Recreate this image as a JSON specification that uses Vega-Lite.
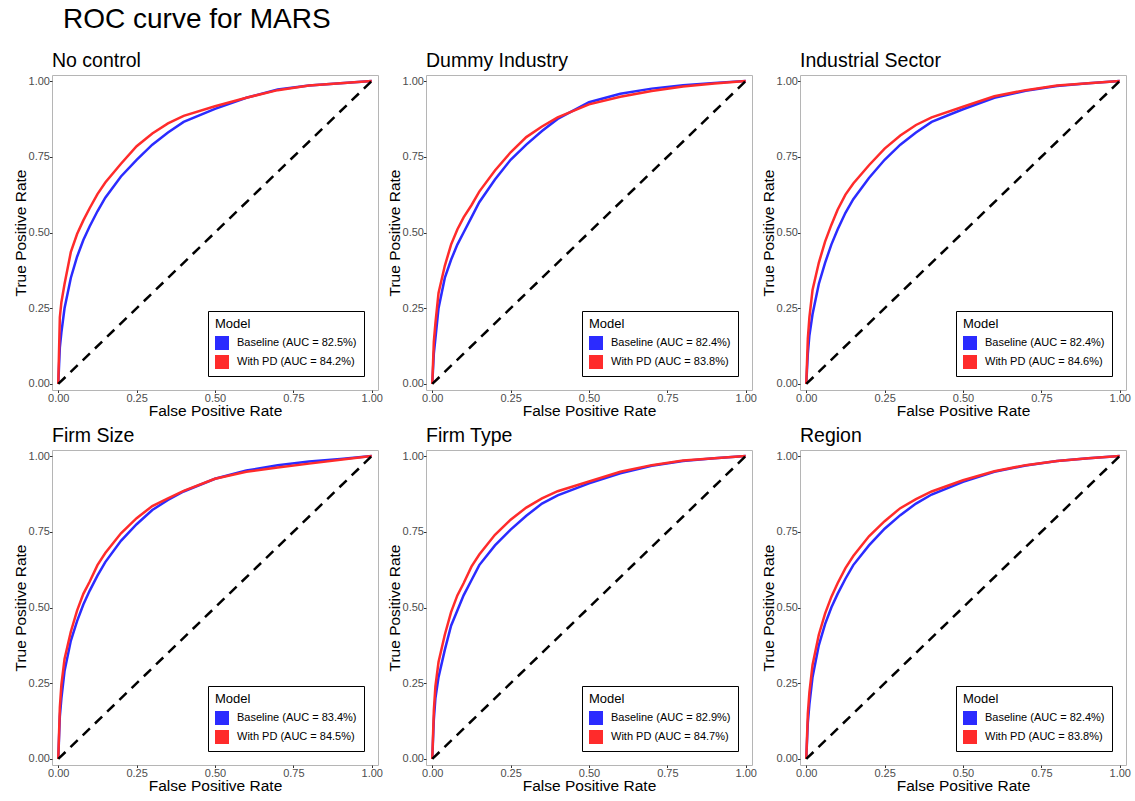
{
  "$schema": "https://vega.github.io/schema/vega-lite/v6.json",
  "background": "white",
  "padding": {"left": 12, "top": 6, "right": 5, "bottom": 5},
  "bounds": "flush",
  "title": {"text": "ROC curve for MARS", "fontSize": 28, "font": "Liberation Sans", "fontWeight": "normal", "color": "black", "anchor": "start", "frame": "group", "dx": 11, "offset": 16},
  "data": {"values": [
    {"panel":"No control","model":"Baseline","fpr":0,"tpr":0},{"panel":"No control","model":"Baseline","fpr":0.005,"tpr":0.12},{"panel":"No control","model":"Baseline","fpr":0.01,"tpr":0.17},{"panel":"No control","model":"Baseline","fpr":0.02,"tpr":0.25},{"panel":"No control","model":"Baseline","fpr":0.04,"tpr":0.35},{"panel":"No control","model":"Baseline","fpr":0.06,"tpr":0.42},{"panel":"No control","model":"Baseline","fpr":0.08,"tpr":0.475},{"panel":"No control","model":"Baseline","fpr":0.1,"tpr":0.52},{"panel":"No control","model":"Baseline","fpr":0.125,"tpr":0.57},{"panel":"No control","model":"Baseline","fpr":0.15,"tpr":0.615},{"panel":"No control","model":"Baseline","fpr":0.2,"tpr":0.685},{"panel":"No control","model":"Baseline","fpr":0.25,"tpr":0.74},{"panel":"No control","model":"Baseline","fpr":0.3,"tpr":0.79},{"panel":"No control","model":"Baseline","fpr":0.35,"tpr":0.83},{"panel":"No control","model":"Baseline","fpr":0.4,"tpr":0.865},{"panel":"No control","model":"Baseline","fpr":0.5,"tpr":0.908},{"panel":"No control","model":"Baseline","fpr":0.6,"tpr":0.945},{"panel":"No control","model":"Baseline","fpr":0.7,"tpr":0.972},{"panel":"No control","model":"Baseline","fpr":0.8,"tpr":0.985},{"panel":"No control","model":"Baseline","fpr":0.9,"tpr":0.993},{"panel":"No control","model":"Baseline","fpr":1,"tpr":1},
    {"panel":"No control","model":"With PD","fpr":0,"tpr":0},{"panel":"No control","model":"With PD","fpr":0.005,"tpr":0.22},{"panel":"No control","model":"With PD","fpr":0.01,"tpr":0.27},{"panel":"No control","model":"With PD","fpr":0.02,"tpr":0.33},{"panel":"No control","model":"With PD","fpr":0.04,"tpr":0.435},{"panel":"No control","model":"With PD","fpr":0.06,"tpr":0.495},{"panel":"No control","model":"With PD","fpr":0.08,"tpr":0.54},{"panel":"No control","model":"With PD","fpr":0.1,"tpr":0.58},{"panel":"No control","model":"With PD","fpr":0.125,"tpr":0.627},{"panel":"No control","model":"With PD","fpr":0.15,"tpr":0.665},{"panel":"No control","model":"With PD","fpr":0.2,"tpr":0.727},{"panel":"No control","model":"With PD","fpr":0.25,"tpr":0.785},{"panel":"No control","model":"With PD","fpr":0.3,"tpr":0.827},{"panel":"No control","model":"With PD","fpr":0.35,"tpr":0.86},{"panel":"No control","model":"With PD","fpr":0.4,"tpr":0.885},{"panel":"No control","model":"With PD","fpr":0.5,"tpr":0.917},{"panel":"No control","model":"With PD","fpr":0.6,"tpr":0.945},{"panel":"No control","model":"With PD","fpr":0.7,"tpr":0.97},{"panel":"No control","model":"With PD","fpr":0.8,"tpr":0.985},{"panel":"No control","model":"With PD","fpr":0.9,"tpr":0.993},{"panel":"No control","model":"With PD","fpr":1,"tpr":1},
    {"panel":"Dummy Industry","model":"Baseline","fpr":0,"tpr":0},{"panel":"Dummy Industry","model":"Baseline","fpr":0.005,"tpr":0.1},{"panel":"Dummy Industry","model":"Baseline","fpr":0.01,"tpr":0.15},{"panel":"Dummy Industry","model":"Baseline","fpr":0.02,"tpr":0.25},{"panel":"Dummy Industry","model":"Baseline","fpr":0.04,"tpr":0.35},{"panel":"Dummy Industry","model":"Baseline","fpr":0.06,"tpr":0.41},{"panel":"Dummy Industry","model":"Baseline","fpr":0.08,"tpr":0.46},{"panel":"Dummy Industry","model":"Baseline","fpr":0.1,"tpr":0.5},{"panel":"Dummy Industry","model":"Baseline","fpr":0.125,"tpr":0.55},{"panel":"Dummy Industry","model":"Baseline","fpr":0.15,"tpr":0.6},{"panel":"Dummy Industry","model":"Baseline","fpr":0.2,"tpr":0.675},{"panel":"Dummy Industry","model":"Baseline","fpr":0.25,"tpr":0.74},{"panel":"Dummy Industry","model":"Baseline","fpr":0.3,"tpr":0.79},{"panel":"Dummy Industry","model":"Baseline","fpr":0.35,"tpr":0.835},{"panel":"Dummy Industry","model":"Baseline","fpr":0.4,"tpr":0.875},{"panel":"Dummy Industry","model":"Baseline","fpr":0.5,"tpr":0.93},{"panel":"Dummy Industry","model":"Baseline","fpr":0.6,"tpr":0.958},{"panel":"Dummy Industry","model":"Baseline","fpr":0.7,"tpr":0.975},{"panel":"Dummy Industry","model":"Baseline","fpr":0.8,"tpr":0.986},{"panel":"Dummy Industry","model":"Baseline","fpr":0.9,"tpr":0.994},{"panel":"Dummy Industry","model":"Baseline","fpr":1,"tpr":1},
    {"panel":"Dummy Industry","model":"With PD","fpr":0,"tpr":0},{"panel":"Dummy Industry","model":"With PD","fpr":0.005,"tpr":0.14},{"panel":"Dummy Industry","model":"With PD","fpr":0.01,"tpr":0.2},{"panel":"Dummy Industry","model":"With PD","fpr":0.02,"tpr":0.3},{"panel":"Dummy Industry","model":"With PD","fpr":0.04,"tpr":0.39},{"panel":"Dummy Industry","model":"With PD","fpr":0.06,"tpr":0.46},{"panel":"Dummy Industry","model":"With PD","fpr":0.08,"tpr":0.51},{"panel":"Dummy Industry","model":"With PD","fpr":0.1,"tpr":0.55},{"panel":"Dummy Industry","model":"With PD","fpr":0.125,"tpr":0.59},{"panel":"Dummy Industry","model":"With PD","fpr":0.15,"tpr":0.635},{"panel":"Dummy Industry","model":"With PD","fpr":0.2,"tpr":0.705},{"panel":"Dummy Industry","model":"With PD","fpr":0.25,"tpr":0.765},{"panel":"Dummy Industry","model":"With PD","fpr":0.3,"tpr":0.815},{"panel":"Dummy Industry","model":"With PD","fpr":0.35,"tpr":0.85},{"panel":"Dummy Industry","model":"With PD","fpr":0.4,"tpr":0.88},{"panel":"Dummy Industry","model":"With PD","fpr":0.5,"tpr":0.923},{"panel":"Dummy Industry","model":"With PD","fpr":0.6,"tpr":0.948},{"panel":"Dummy Industry","model":"With PD","fpr":0.7,"tpr":0.967},{"panel":"Dummy Industry","model":"With PD","fpr":0.8,"tpr":0.982},{"panel":"Dummy Industry","model":"With PD","fpr":0.9,"tpr":0.992},{"panel":"Dummy Industry","model":"With PD","fpr":1,"tpr":1},
    {"panel":"Industrial Sector","model":"Baseline","fpr":0,"tpr":0},{"panel":"Industrial Sector","model":"Baseline","fpr":0.005,"tpr":0.1},{"panel":"Industrial Sector","model":"Baseline","fpr":0.01,"tpr":0.16},{"panel":"Industrial Sector","model":"Baseline","fpr":0.02,"tpr":0.23},{"panel":"Industrial Sector","model":"Baseline","fpr":0.04,"tpr":0.33},{"panel":"Industrial Sector","model":"Baseline","fpr":0.06,"tpr":0.4},{"panel":"Industrial Sector","model":"Baseline","fpr":0.08,"tpr":0.46},{"panel":"Industrial Sector","model":"Baseline","fpr":0.1,"tpr":0.51},{"panel":"Industrial Sector","model":"Baseline","fpr":0.125,"tpr":0.565},{"panel":"Industrial Sector","model":"Baseline","fpr":0.15,"tpr":0.61},{"panel":"Industrial Sector","model":"Baseline","fpr":0.2,"tpr":0.68},{"panel":"Industrial Sector","model":"Baseline","fpr":0.25,"tpr":0.74},{"panel":"Industrial Sector","model":"Baseline","fpr":0.3,"tpr":0.79},{"panel":"Industrial Sector","model":"Baseline","fpr":0.35,"tpr":0.83},{"panel":"Industrial Sector","model":"Baseline","fpr":0.4,"tpr":0.865},{"panel":"Industrial Sector","model":"Baseline","fpr":0.5,"tpr":0.907},{"panel":"Industrial Sector","model":"Baseline","fpr":0.6,"tpr":0.945},{"panel":"Industrial Sector","model":"Baseline","fpr":0.7,"tpr":0.968},{"panel":"Industrial Sector","model":"Baseline","fpr":0.8,"tpr":0.984},{"panel":"Industrial Sector","model":"Baseline","fpr":0.9,"tpr":0.993},{"panel":"Industrial Sector","model":"Baseline","fpr":1,"tpr":1},
    {"panel":"Industrial Sector","model":"With PD","fpr":0,"tpr":0},{"panel":"Industrial Sector","model":"With PD","fpr":0.005,"tpr":0.15},{"panel":"Industrial Sector","model":"With PD","fpr":0.01,"tpr":0.22},{"panel":"Industrial Sector","model":"With PD","fpr":0.02,"tpr":0.31},{"panel":"Industrial Sector","model":"With PD","fpr":0.04,"tpr":0.4},{"panel":"Industrial Sector","model":"With PD","fpr":0.06,"tpr":0.47},{"panel":"Industrial Sector","model":"With PD","fpr":0.08,"tpr":0.525},{"panel":"Industrial Sector","model":"With PD","fpr":0.1,"tpr":0.575},{"panel":"Industrial Sector","model":"With PD","fpr":0.125,"tpr":0.625},{"panel":"Industrial Sector","model":"With PD","fpr":0.15,"tpr":0.662},{"panel":"Industrial Sector","model":"With PD","fpr":0.2,"tpr":0.722},{"panel":"Industrial Sector","model":"With PD","fpr":0.25,"tpr":0.777},{"panel":"Industrial Sector","model":"With PD","fpr":0.3,"tpr":0.82},{"panel":"Industrial Sector","model":"With PD","fpr":0.35,"tpr":0.855},{"panel":"Industrial Sector","model":"With PD","fpr":0.4,"tpr":0.88},{"panel":"Industrial Sector","model":"With PD","fpr":0.5,"tpr":0.915},{"panel":"Industrial Sector","model":"With PD","fpr":0.6,"tpr":0.95},{"panel":"Industrial Sector","model":"With PD","fpr":0.7,"tpr":0.97},{"panel":"Industrial Sector","model":"With PD","fpr":0.8,"tpr":0.985},{"panel":"Industrial Sector","model":"With PD","fpr":0.9,"tpr":0.993},{"panel":"Industrial Sector","model":"With PD","fpr":1,"tpr":1},
    {"panel":"Firm Size","model":"Baseline","fpr":0,"tpr":0},{"panel":"Firm Size","model":"Baseline","fpr":0.005,"tpr":0.14},{"panel":"Firm Size","model":"Baseline","fpr":0.01,"tpr":0.2},{"panel":"Firm Size","model":"Baseline","fpr":0.02,"tpr":0.29},{"panel":"Firm Size","model":"Baseline","fpr":0.04,"tpr":0.39},{"panel":"Firm Size","model":"Baseline","fpr":0.06,"tpr":0.455},{"panel":"Firm Size","model":"Baseline","fpr":0.08,"tpr":0.51},{"panel":"Firm Size","model":"Baseline","fpr":0.1,"tpr":0.555},{"panel":"Firm Size","model":"Baseline","fpr":0.125,"tpr":0.605},{"panel":"Firm Size","model":"Baseline","fpr":0.15,"tpr":0.65},{"panel":"Firm Size","model":"Baseline","fpr":0.2,"tpr":0.72},{"panel":"Firm Size","model":"Baseline","fpr":0.25,"tpr":0.775},{"panel":"Firm Size","model":"Baseline","fpr":0.3,"tpr":0.822},{"panel":"Firm Size","model":"Baseline","fpr":0.35,"tpr":0.855},{"panel":"Firm Size","model":"Baseline","fpr":0.4,"tpr":0.883},{"panel":"Firm Size","model":"Baseline","fpr":0.5,"tpr":0.925},{"panel":"Firm Size","model":"Baseline","fpr":0.6,"tpr":0.952},{"panel":"Firm Size","model":"Baseline","fpr":0.7,"tpr":0.97},{"panel":"Firm Size","model":"Baseline","fpr":0.8,"tpr":0.982},{"panel":"Firm Size","model":"Baseline","fpr":0.9,"tpr":0.99},{"panel":"Firm Size","model":"Baseline","fpr":1,"tpr":1},
    {"panel":"Firm Size","model":"With PD","fpr":0,"tpr":0},{"panel":"Firm Size","model":"With PD","fpr":0.005,"tpr":0.17},{"panel":"Firm Size","model":"With PD","fpr":0.01,"tpr":0.245},{"panel":"Firm Size","model":"With PD","fpr":0.02,"tpr":0.33},{"panel":"Firm Size","model":"With PD","fpr":0.04,"tpr":0.42},{"panel":"Firm Size","model":"With PD","fpr":0.06,"tpr":0.49},{"panel":"Firm Size","model":"With PD","fpr":0.08,"tpr":0.545},{"panel":"Firm Size","model":"With PD","fpr":0.1,"tpr":0.585},{"panel":"Firm Size","model":"With PD","fpr":0.125,"tpr":0.64},{"panel":"Firm Size","model":"With PD","fpr":0.15,"tpr":0.68},{"panel":"Firm Size","model":"With PD","fpr":0.2,"tpr":0.745},{"panel":"Firm Size","model":"With PD","fpr":0.25,"tpr":0.795},{"panel":"Firm Size","model":"With PD","fpr":0.3,"tpr":0.835},{"panel":"Firm Size","model":"With PD","fpr":0.35,"tpr":0.86},{"panel":"Firm Size","model":"With PD","fpr":0.4,"tpr":0.885},{"panel":"Firm Size","model":"With PD","fpr":0.5,"tpr":0.925},{"panel":"Firm Size","model":"With PD","fpr":0.6,"tpr":0.948},{"panel":"Firm Size","model":"With PD","fpr":0.7,"tpr":0.962},{"panel":"Firm Size","model":"With PD","fpr":0.8,"tpr":0.975},{"panel":"Firm Size","model":"With PD","fpr":0.9,"tpr":0.988},{"panel":"Firm Size","model":"With PD","fpr":1,"tpr":1},
    {"panel":"Firm Type","model":"Baseline","fpr":0,"tpr":0},{"panel":"Firm Type","model":"Baseline","fpr":0.005,"tpr":0.13},{"panel":"Firm Type","model":"Baseline","fpr":0.01,"tpr":0.2},{"panel":"Firm Type","model":"Baseline","fpr":0.02,"tpr":0.27},{"panel":"Firm Type","model":"Baseline","fpr":0.04,"tpr":0.36},{"panel":"Firm Type","model":"Baseline","fpr":0.06,"tpr":0.44},{"panel":"Firm Type","model":"Baseline","fpr":0.08,"tpr":0.49},{"panel":"Firm Type","model":"Baseline","fpr":0.1,"tpr":0.54},{"panel":"Firm Type","model":"Baseline","fpr":0.125,"tpr":0.59},{"panel":"Firm Type","model":"Baseline","fpr":0.15,"tpr":0.64},{"panel":"Firm Type","model":"Baseline","fpr":0.2,"tpr":0.705},{"panel":"Firm Type","model":"Baseline","fpr":0.25,"tpr":0.757},{"panel":"Firm Type","model":"Baseline","fpr":0.3,"tpr":0.803},{"panel":"Firm Type","model":"Baseline","fpr":0.35,"tpr":0.843},{"panel":"Firm Type","model":"Baseline","fpr":0.4,"tpr":0.87},{"panel":"Firm Type","model":"Baseline","fpr":0.5,"tpr":0.91},{"panel":"Firm Type","model":"Baseline","fpr":0.6,"tpr":0.943},{"panel":"Firm Type","model":"Baseline","fpr":0.7,"tpr":0.968},{"panel":"Firm Type","model":"Baseline","fpr":0.8,"tpr":0.984},{"panel":"Firm Type","model":"Baseline","fpr":0.9,"tpr":0.993},{"panel":"Firm Type","model":"Baseline","fpr":1,"tpr":1},
    {"panel":"Firm Type","model":"With PD","fpr":0,"tpr":0},{"panel":"Firm Type","model":"With PD","fpr":0.005,"tpr":0.16},{"panel":"Firm Type","model":"With PD","fpr":0.01,"tpr":0.24},{"panel":"Firm Type","model":"With PD","fpr":0.02,"tpr":0.32},{"panel":"Firm Type","model":"With PD","fpr":0.04,"tpr":0.41},{"panel":"Firm Type","model":"With PD","fpr":0.06,"tpr":0.485},{"panel":"Firm Type","model":"With PD","fpr":0.08,"tpr":0.54},{"panel":"Firm Type","model":"With PD","fpr":0.1,"tpr":0.58},{"panel":"Firm Type","model":"With PD","fpr":0.125,"tpr":0.635},{"panel":"Firm Type","model":"With PD","fpr":0.15,"tpr":0.675},{"panel":"Firm Type","model":"With PD","fpr":0.2,"tpr":0.74},{"panel":"Firm Type","model":"With PD","fpr":0.25,"tpr":0.79},{"panel":"Firm Type","model":"With PD","fpr":0.3,"tpr":0.83},{"panel":"Firm Type","model":"With PD","fpr":0.35,"tpr":0.86},{"panel":"Firm Type","model":"With PD","fpr":0.4,"tpr":0.884},{"panel":"Firm Type","model":"With PD","fpr":0.5,"tpr":0.916},{"panel":"Firm Type","model":"With PD","fpr":0.6,"tpr":0.948},{"panel":"Firm Type","model":"With PD","fpr":0.7,"tpr":0.97},{"panel":"Firm Type","model":"With PD","fpr":0.8,"tpr":0.985},{"panel":"Firm Type","model":"With PD","fpr":0.9,"tpr":0.993},{"panel":"Firm Type","model":"With PD","fpr":1,"tpr":1},
    {"panel":"Region","model":"Baseline","fpr":0,"tpr":0},{"panel":"Region","model":"Baseline","fpr":0.005,"tpr":0.12},{"panel":"Region","model":"Baseline","fpr":0.01,"tpr":0.18},{"panel":"Region","model":"Baseline","fpr":0.02,"tpr":0.27},{"panel":"Region","model":"Baseline","fpr":0.04,"tpr":0.375},{"panel":"Region","model":"Baseline","fpr":0.06,"tpr":0.445},{"panel":"Region","model":"Baseline","fpr":0.08,"tpr":0.5},{"panel":"Region","model":"Baseline","fpr":0.1,"tpr":0.545},{"panel":"Region","model":"Baseline","fpr":0.125,"tpr":0.595},{"panel":"Region","model":"Baseline","fpr":0.15,"tpr":0.64},{"panel":"Region","model":"Baseline","fpr":0.2,"tpr":0.705},{"panel":"Region","model":"Baseline","fpr":0.25,"tpr":0.76},{"panel":"Region","model":"Baseline","fpr":0.3,"tpr":0.805},{"panel":"Region","model":"Baseline","fpr":0.35,"tpr":0.843},{"panel":"Region","model":"Baseline","fpr":0.4,"tpr":0.873},{"panel":"Region","model":"Baseline","fpr":0.5,"tpr":0.915},{"panel":"Region","model":"Baseline","fpr":0.6,"tpr":0.948},{"panel":"Region","model":"Baseline","fpr":0.7,"tpr":0.969},{"panel":"Region","model":"Baseline","fpr":0.8,"tpr":0.984},{"panel":"Region","model":"Baseline","fpr":0.9,"tpr":0.993},{"panel":"Region","model":"Baseline","fpr":1,"tpr":1},
    {"panel":"Region","model":"With PD","fpr":0,"tpr":0},{"panel":"Region","model":"With PD","fpr":0.005,"tpr":0.15},{"panel":"Region","model":"With PD","fpr":0.01,"tpr":0.22},{"panel":"Region","model":"With PD","fpr":0.02,"tpr":0.31},{"panel":"Region","model":"With PD","fpr":0.04,"tpr":0.41},{"panel":"Region","model":"With PD","fpr":0.06,"tpr":0.48},{"panel":"Region","model":"With PD","fpr":0.08,"tpr":0.535},{"panel":"Region","model":"With PD","fpr":0.1,"tpr":0.58},{"panel":"Region","model":"With PD","fpr":0.125,"tpr":0.63},{"panel":"Region","model":"With PD","fpr":0.15,"tpr":0.67},{"panel":"Region","model":"With PD","fpr":0.2,"tpr":0.735},{"panel":"Region","model":"With PD","fpr":0.25,"tpr":0.785},{"panel":"Region","model":"With PD","fpr":0.3,"tpr":0.828},{"panel":"Region","model":"With PD","fpr":0.35,"tpr":0.858},{"panel":"Region","model":"With PD","fpr":0.4,"tpr":0.883},{"panel":"Region","model":"With PD","fpr":0.5,"tpr":0.92},{"panel":"Region","model":"With PD","fpr":0.6,"tpr":0.95},{"panel":"Region","model":"With PD","fpr":0.7,"tpr":0.97},{"panel":"Region","model":"With PD","fpr":0.8,"tpr":0.984},{"panel":"Region","model":"With PD","fpr":0.9,"tpr":0.993},{"panel":"Region","model":"With PD","fpr":1,"tpr":1}
  ]},
  "columns": 3,
  "spacing": {"row": 60, "column": 48},
  "resolve": {"scale": {"color": "independent"}, "legend": {"color": "independent"}},
  "concat": [
    {"title": "No control", "width": 326, "height": 315,
     "layer": [
      {"transform": [{"filter": "datum.panel == 'No control'"}],
       "mark": {"type": "line", "strokeWidth": 2.5},
       "encoding": {
        "x": {"field": "fpr", "type": "quantitative", "title": "False Positive Rate", "scale": {"domain": [-0.02, 1.02], "nice": false, "zero": false}, "axis": {"values": [0, 0.25, 0.5, 0.75, 1]}},
        "y": {"field": "tpr", "type": "quantitative", "title": "True Positive Rate", "scale": {"domain": [-0.02, 1.02], "nice": false, "zero": false}, "axis": {"values": [0, 0.25, 0.5, 0.75, 1]}},
        "color": {"field": "model", "type": "nominal", "title": "Model", "scale": {"domain": ["Baseline", "With PD"], "range": ["#2b2bff", "#ff2b2b"]}, "legend": {"labelExpr": "datum.label == 'Baseline' ? 'Baseline (AUC = 82.5%)' : 'With PD (AUC = 84.2%)'", "encode": {"symbols": {"update": {"fill": {"signal": "datum.value == 'Baseline' ? '#2b2bff' : '#ff2b2b'"}}}}}}}},
      {"data": {"values": [{}]}, "mark": {"type": "rule", "color": "black", "strokeWidth": 2.5, "strokeDash": [10, 7]},
       "encoding": {"x": {"datum": 0}, "y": {"datum": 0}, "x2": {"datum": 1}, "y2": {"datum": 1}}}
     ]},
    {"title": "Dummy Industry", "width": 326, "height": 315,
     "layer": [
      {"transform": [{"filter": "datum.panel == 'Dummy Industry'"}],
       "mark": {"type": "line", "strokeWidth": 2.5},
       "encoding": {
        "x": {"field": "fpr", "type": "quantitative", "title": "False Positive Rate", "scale": {"domain": [-0.02, 1.02], "nice": false, "zero": false}, "axis": {"values": [0, 0.25, 0.5, 0.75, 1]}},
        "y": {"field": "tpr", "type": "quantitative", "title": "True Positive Rate", "scale": {"domain": [-0.02, 1.02], "nice": false, "zero": false}, "axis": {"values": [0, 0.25, 0.5, 0.75, 1]}},
        "color": {"field": "model", "type": "nominal", "title": "Model", "scale": {"domain": ["Baseline", "With PD"], "range": ["#2b2bff", "#ff2b2b"]}, "legend": {"labelExpr": "datum.label == 'Baseline' ? 'Baseline (AUC = 82.4%)' : 'With PD (AUC = 83.8%)'", "encode": {"symbols": {"update": {"fill": {"signal": "datum.value == 'Baseline' ? '#2b2bff' : '#ff2b2b'"}}}}}}}},
      {"data": {"values": [{}]}, "mark": {"type": "rule", "color": "black", "strokeWidth": 2.5, "strokeDash": [10, 7]},
       "encoding": {"x": {"datum": 0}, "y": {"datum": 0}, "x2": {"datum": 1}, "y2": {"datum": 1}}}
     ]},
    {"title": "Industrial Sector", "width": 326, "height": 315,
     "layer": [
      {"transform": [{"filter": "datum.panel == 'Industrial Sector'"}],
       "mark": {"type": "line", "strokeWidth": 2.5},
       "encoding": {
        "x": {"field": "fpr", "type": "quantitative", "title": "False Positive Rate", "scale": {"domain": [-0.02, 1.02], "nice": false, "zero": false}, "axis": {"values": [0, 0.25, 0.5, 0.75, 1]}},
        "y": {"field": "tpr", "type": "quantitative", "title": "True Positive Rate", "scale": {"domain": [-0.02, 1.02], "nice": false, "zero": false}, "axis": {"values": [0, 0.25, 0.5, 0.75, 1]}},
        "color": {"field": "model", "type": "nominal", "title": "Model", "scale": {"domain": ["Baseline", "With PD"], "range": ["#2b2bff", "#ff2b2b"]}, "legend": {"labelExpr": "datum.label == 'Baseline' ? 'Baseline (AUC = 82.4%)' : 'With PD (AUC = 84.6%)'", "encode": {"symbols": {"update": {"fill": {"signal": "datum.value == 'Baseline' ? '#2b2bff' : '#ff2b2b'"}}}}}}}},
      {"data": {"values": [{}]}, "mark": {"type": "rule", "color": "black", "strokeWidth": 2.5, "strokeDash": [10, 7]},
       "encoding": {"x": {"datum": 0}, "y": {"datum": 0}, "x2": {"datum": 1}, "y2": {"datum": 1}}}
     ]},
    {"title": "Firm Size", "width": 326, "height": 315,
     "layer": [
      {"transform": [{"filter": "datum.panel == 'Firm Size'"}],
       "mark": {"type": "line", "strokeWidth": 2.5},
       "encoding": {
        "x": {"field": "fpr", "type": "quantitative", "title": "False Positive Rate", "scale": {"domain": [-0.02, 1.02], "nice": false, "zero": false}, "axis": {"values": [0, 0.25, 0.5, 0.75, 1]}},
        "y": {"field": "tpr", "type": "quantitative", "title": "True Positive Rate", "scale": {"domain": [-0.02, 1.02], "nice": false, "zero": false}, "axis": {"values": [0, 0.25, 0.5, 0.75, 1]}},
        "color": {"field": "model", "type": "nominal", "title": "Model", "scale": {"domain": ["Baseline", "With PD"], "range": ["#2b2bff", "#ff2b2b"]}, "legend": {"labelExpr": "datum.label == 'Baseline' ? 'Baseline (AUC = 83.4%)' : 'With PD (AUC = 84.5%)'", "encode": {"symbols": {"update": {"fill": {"signal": "datum.value == 'Baseline' ? '#2b2bff' : '#ff2b2b'"}}}}}}}},
      {"data": {"values": [{}]}, "mark": {"type": "rule", "color": "black", "strokeWidth": 2.5, "strokeDash": [10, 7]},
       "encoding": {"x": {"datum": 0}, "y": {"datum": 0}, "x2": {"datum": 1}, "y2": {"datum": 1}}}
     ]},
    {"title": "Firm Type", "width": 326, "height": 315,
     "layer": [
      {"transform": [{"filter": "datum.panel == 'Firm Type'"}],
       "mark": {"type": "line", "strokeWidth": 2.5},
       "encoding": {
        "x": {"field": "fpr", "type": "quantitative", "title": "False Positive Rate", "scale": {"domain": [-0.02, 1.02], "nice": false, "zero": false}, "axis": {"values": [0, 0.25, 0.5, 0.75, 1]}},
        "y": {"field": "tpr", "type": "quantitative", "title": "True Positive Rate", "scale": {"domain": [-0.02, 1.02], "nice": false, "zero": false}, "axis": {"values": [0, 0.25, 0.5, 0.75, 1]}},
        "color": {"field": "model", "type": "nominal", "title": "Model", "scale": {"domain": ["Baseline", "With PD"], "range": ["#2b2bff", "#ff2b2b"]}, "legend": {"labelExpr": "datum.label == 'Baseline' ? 'Baseline (AUC = 82.9%)' : 'With PD (AUC = 84.7%)'", "encode": {"symbols": {"update": {"fill": {"signal": "datum.value == 'Baseline' ? '#2b2bff' : '#ff2b2b'"}}}}}}}},
      {"data": {"values": [{}]}, "mark": {"type": "rule", "color": "black", "strokeWidth": 2.5, "strokeDash": [10, 7]},
       "encoding": {"x": {"datum": 0}, "y": {"datum": 0}, "x2": {"datum": 1}, "y2": {"datum": 1}}}
     ]},
    {"title": "Region", "width": 326, "height": 315,
     "layer": [
      {"transform": [{"filter": "datum.panel == 'Region'"}],
       "mark": {"type": "line", "strokeWidth": 2.5},
       "encoding": {
        "x": {"field": "fpr", "type": "quantitative", "title": "False Positive Rate", "scale": {"domain": [-0.02, 1.02], "nice": false, "zero": false}, "axis": {"values": [0, 0.25, 0.5, 0.75, 1]}},
        "y": {"field": "tpr", "type": "quantitative", "title": "True Positive Rate", "scale": {"domain": [-0.02, 1.02], "nice": false, "zero": false}, "axis": {"values": [0, 0.25, 0.5, 0.75, 1]}},
        "color": {"field": "model", "type": "nominal", "title": "Model", "scale": {"domain": ["Baseline", "With PD"], "range": ["#2b2bff", "#ff2b2b"]}, "legend": {"labelExpr": "datum.label == 'Baseline' ? 'Baseline (AUC = 82.4%)' : 'With PD (AUC = 83.8%)'", "encode": {"symbols": {"update": {"fill": {"signal": "datum.value == 'Baseline' ? '#2b2bff' : '#ff2b2b'"}}}}}}}},
      {"data": {"values": [{}]}, "mark": {"type": "rule", "color": "black", "strokeWidth": 2.5, "strokeDash": [10, 7]},
       "encoding": {"x": {"datum": 0}, "y": {"datum": 0}, "x2": {"datum": 1}, "y2": {"datum": 1}}}
     ]}
  ],
  "config": {
    "font": "Liberation Sans",
    "view": {"stroke": "#b5b5b5", "strokeWidth": 1},
    "title": {"anchor": "start", "frame": "group", "fontSize": 19.5, "fontWeight": "normal", "color": "black", "offset": 4},
    "axis": {"domain": false, "grid": false, "format": ".2f", "tickColor": "#333333", "tickSize": 2.5, "labelColor": "#4d4d4d", "labelFontSize": 11, "labelPadding": 0, "labelFlush": false, "labelOverlap": false, "titleFontSize": 15.5, "titleFontWeight": "normal", "titleColor": "black", "titlePadding": 0},
    "legend": {"orient": "bottom-right", "offset": 14, "strokeColor": "black", "fillColor": "white", "padding": 7, "titleFontSize": 13, "titleFontWeight": "normal", "titleColor": "black", "titlePadding": 5, "labelFontSize": 11, "labelColor": "black", "labelOffset": 8, "symbolType": "square", "symbolSize": 196, "symbolStrokeWidth": 0, "symbolOpacity": 1, "rowPadding": 5}
  }
}
